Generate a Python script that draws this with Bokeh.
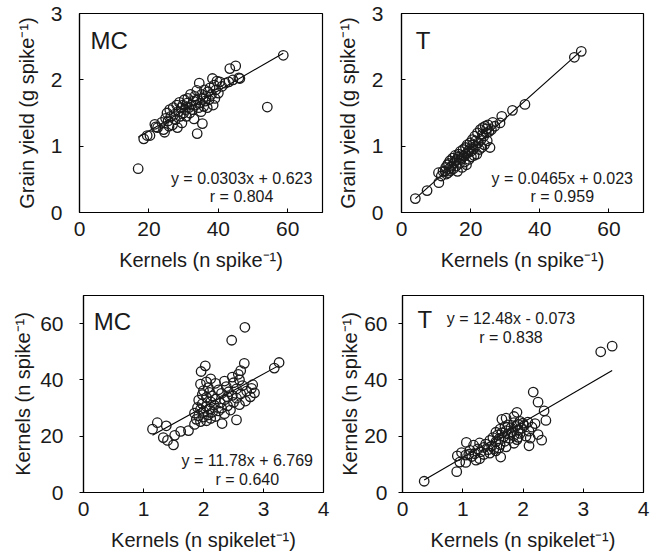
from bokeh.plotting import figure
from bokeh.layouts import column, row
from bokeh.models import Range1d, FixedTicker, Label
from bokeh.embed import file_html
from bokeh.resources import INLINE

# ---- MC treatment ----
mc_kernels_spike = [16.9, 18.5, 19.5, 20.3, 21.7, 22.0, 22.5, 23.7, 24.2, 24.5, 24.8, 25.2, 25.5, 25.8,
                    26.0, 26.3, 26.8, 27.0, 27.3, 27.6, 28.0, 28.2, 28.5, 28.8, 29.0, 29.3, 29.5, 29.8,
                    30.0, 30.2, 30.5, 30.8, 31.0, 31.2, 31.5, 31.8, 32.0, 32.2, 32.5, 32.8, 33.0, 33.2,
                    33.5, 33.8, 33.9, 34.0, 34.3, 34.5, 34.8, 35.0, 35.2, 35.4, 35.6, 35.8, 36.0, 36.2,
                    36.5, 36.8, 37.0, 37.3, 37.6, 38.0, 38.3, 38.5, 38.8, 39.0, 39.3, 39.6, 40.0, 40.4,
                    41.0, 42.0, 43.0, 43.3, 44.2, 45.0, 45.9, 46.2, 54.1, 58.7]
mc_grain_yield = [0.66, 1.11, 1.16, 1.16, 1.33, 1.29, 1.28, 1.36, 1.25, 1.21, 1.42, 1.50, 1.38, 1.30,
                  1.55, 1.45, 1.32, 1.58, 1.48, 1.40, 1.62, 1.28, 1.52, 1.66, 1.45, 1.58, 1.35, 1.62,
                  1.50, 1.70, 1.55, 1.45, 1.65, 1.72, 1.58, 1.50, 1.78, 1.62, 1.55, 1.68, 1.41, 1.75,
                  1.62, 1.84, 1.19, 1.70, 1.58, 1.95, 1.65, 1.52, 1.78, 1.34, 1.72, 1.60, 1.85, 1.68,
                  1.75, 1.58, 1.82, 1.70, 1.88, 1.78, 2.02, 1.62, 1.92, 1.72, 1.85, 1.98, 1.80, 1.97,
                  1.90, 1.95, 1.97, 2.17, 2.00, 2.21, 2.03, 2.02, 1.59, 2.37]
mc_kernels_spikelet = [1.50, 1.40, 1.33, 1.52, 1.62, 1.75, 1.15, 1.38, 1.85, 2.31, 1.23, 1.95, 2.05, 2.55,
                       1.88, 2.12, 2.00, 2.20, 1.92, 2.08, 2.35, 1.85, 2.15, 2.00, 2.25, 2.45, 1.95, 2.10,
                       2.30, 1.90, 2.05, 2.40, 2.18, 2.60, 1.98, 2.28, 2.50, 2.12, 2.70, 1.92, 2.35, 2.20,
                       2.55, 2.05, 2.40, 2.78, 2.15, 2.48, 1.98, 2.62, 2.30, 2.85, 2.10, 2.42, 2.72, 2.00,
                       2.25, 2.55, 2.80, 2.08, 2.38, 2.65, 2.82, 1.95, 2.20, 2.50, 2.05, 2.35, 2.60, 2.12,
                       2.48, 2.58, 1.96, 2.62, 3.18, 2.03, 2.68, 3.26, 2.47, 2.69]

# ---- T treatment ----
t_kernels_spike = [4.0, 7.4, 10.7, 10.8, 11.5, 12.0, 12.6, 12.8, 13.0, 13.3, 13.5, 13.6, 13.8, 14.0,
                   14.2, 14.5, 14.8, 15.0, 15.2, 15.5, 15.6, 15.8, 16.0, 16.2, 16.5, 16.6, 16.8, 17.0,
                   17.2, 17.5, 17.6, 17.8, 18.0, 18.2, 18.5, 18.6, 18.8, 19.0, 19.2, 19.3, 19.5, 19.6,
                   19.8, 20.0, 20.2, 20.5, 20.6, 20.8, 21.0, 21.2, 21.4, 21.5, 21.8, 22.0, 22.2, 22.5,
                   22.8, 23.0, 23.2, 23.4, 23.5, 23.8, 24.0, 24.2, 24.5, 24.6, 24.8, 25.0, 25.3, 25.6,
                   26.0, 26.4, 27.0, 28.5, 29.0, 32.1, 35.7, 50.0, 52.0]
t_grain_yield = [0.21, 0.33, 0.60, 0.45, 0.55, 0.62, 0.62, 0.68, 0.58, 0.72, 0.60, 0.74, 0.66, 0.78,
                 0.63, 0.70, 0.82, 0.66, 0.75, 0.86, 0.78, 0.70, 0.80, 0.62, 0.88, 0.84, 0.74, 0.92,
                 0.80, 0.68, 0.86, 0.95, 0.85, 0.76, 0.98, 0.88, 0.72, 1.02, 0.90, 0.92, 0.80, 0.95,
                 1.05, 0.92, 0.84, 1.10, 1.02, 0.96, 0.86, 1.15, 1.08, 1.00, 0.88, 1.20, 1.05, 0.95,
                 1.25, 1.10, 0.98, 1.18, 1.28, 1.15, 1.02, 1.30, 1.20, 1.26, 1.08, 1.32, 1.22, 0.98,
                 1.25, 1.36, 1.30, 1.35, 1.45, 1.54, 1.63, 2.34, 2.43]
t_kernels_spikelet = [0.36, 0.90, 1.05, 0.95, 1.22, 1.28, 1.63, 1.15, 0.91, 1.05, 1.35, 1.10, 1.20, 1.45,
                      0.98, 1.30, 1.55, 1.12, 1.42, 1.25, 1.52, 1.60, 1.35, 1.72, 1.48, 2.10, 1.18, 1.62,
                      1.38, 1.85, 1.28, 1.06, 1.55, 1.70, 1.45, 2.31, 1.90, 1.60, 1.78, 2.12, 1.50, 1.92,
                      1.68, 2.05, 1.85, 1.58, 2.25, 1.75, 1.95, 1.65, 1.55, 1.82, 2.10, 1.72, 1.92, 1.62,
                      1.98, 1.80, 2.15, 1.70, 1.88, 2.02, 1.75, 1.92, 2.20, 2.00, 1.85, 2.08, 1.95, 2.38,
                      1.65, 1.72, 1.85, 1.90, 2.35, 2.25, 2.17, 3.29, 3.48]

# regression fits (slope, intercept) and their printed text
fit_mc_gy = (0.0303, 0.623)
fit_t_gy = (0.0465, 0.023)
fit_mc_k = (11.78, 6.769)
fit_t_k = (12.48, -0.073)
eq_texts = ["y = 0.0303x + 0.623", "y = 0.0465x + 0.023", "y = 11.78x + 6.769", "y = 12.48x - 0.073"]
r_texts = ["r = 0.804", "r = 0.959", "r = 0.640", "r = 0.838"]
tags = ["MC", "T", "MC", "T"]

xlab_spike = "Kernels (n spike\u207b\u00b9)"
xlab_spikelet = "Kernels (n spikelet\u207b\u00b9)"
ylab_gy = "Grain yield (g spike\u207b\u00b9)"
ylab_k = "Kernels (n spike\u207b\u00b9)"

FONT = "Liberation Sans"
INK = "#1a1a1a"


def panel(x, y, fit, xr, yr, xt, yt, xlab, ylab, tag, tag_xy, eq, r, eq_xy, r_xy,
          w, h, borders, ytick_in, ylab_standoff=10, ytick_standoff=17):
    p = figure(width=w, height=h, x_range=Range1d(*xr), y_range=Range1d(*yr),
               output_backend="svg", toolbar_location=None,
               min_border_left=borders[0], min_border_right=borders[1],
               min_border_top=borders[2], min_border_bottom=borders[3])
    p.grid.visible = False
    p.outline_line_color = "black"
    p.outline_line_width = 1.2
    p.background_fill_color = "white"
    p.border_fill_color = "white"

    p.xaxis.ticker = FixedTicker(ticks=xt)
    p.yaxis.ticker = FixedTicker(ticks=yt)
    for ax in (p.xaxis[0], p.yaxis[0]):
        ax.axis_line_color = "black"
        ax.axis_line_width = 1.2
        ax.major_tick_line_color = "black"
        ax.minor_tick_line_color = None
        ax.major_label_text_font = FONT
        ax.major_label_text_font_size = "21px"
        ax.major_label_text_color = INK
        ax.axis_label_text_font = FONT
        ax.axis_label_text_font_size = "20px"
        ax.axis_label_text_font_style = "normal"
        ax.axis_label_text_color = INK
    p.xaxis.major_tick_in = 4
    p.xaxis.major_tick_out = 0
    p.xaxis.major_label_standoff = 9
    p.xaxis.axis_label_standoff = 10
    if ytick_in:
        p.yaxis.major_tick_in = 4
        p.yaxis.major_tick_out = 0
    else:
        p.yaxis.major_tick_in = 0
        p.yaxis.major_tick_out = 4
    p.yaxis.major_label_standoff = ytick_standoff
    p.yaxis.axis_label_standoff = ylab_standoff
    p.xaxis.axis_label = xlab
    p.yaxis.axis_label = ylab

    x0, x1 = min(x), max(x)
    p.line([x0, x1], [fit[0] * x0 + fit[1], fit[0] * x1 + fit[1]], line_color="black", line_width=1.1)
    p.scatter(x, y, marker="circle", size=9.5, fill_alpha=0, line_color=INK, line_width=1.3)

    p.add_layout(Label(x=tag_xy[0], y=tag_xy[1], text=tag, text_align="left", text_baseline="middle",
                       text_font=FONT, text_font_size="24px", text_color=INK))
    p.add_layout(Label(x=eq_xy[0], y=eq_xy[1], text=eq, text_align="center", text_baseline="middle",
                       text_font=FONT, text_font_size="16px", text_color=INK))
    p.add_layout(Label(x=r_xy[0], y=r_xy[1], text=r, text_align="center", text_baseline="middle",
                       text_font=FONT, text_font_size="16px", text_color=INK))
    return p


p1 = panel(mc_kernels_spike, mc_grain_yield, fit_mc_gy, (0, 70), (0, 3), [0, 20, 40, 60], [0, 1, 2, 3],
           xlab_spike, ylab_gy, tags[0], (3.2, 2.6), eq_texts[0], r_texts[0], (46.7, 0.51), (46.7, 0.24),
           330, 279, (79, 8, 13, 67), True)
p2 = panel(t_kernels_spike, t_grain_yield, fit_t_gy, (0, 70), (0, 3), [0, 20, 40, 60], [0, 1, 2, 3],
           xlab_spike, ylab_gy, tags[1], (4.1, 2.6), eq_texts[1], r_texts[1], (46.5, 0.51), (46.5, 0.24),
           322, 279, (71, 9, 13, 67), True, ytick_standoff=18)
p3 = panel(mc_kernels_spikelet, mc_kernels_spike, fit_mc_k, (0, 4), (0, 70), [0, 1, 2, 3, 4], [0, 20, 40, 60],
           xlab_spikelet, ylab_k, tags[2], (0.17, 60.7), eq_texts[2], r_texts[2], (2.73, 11.4), (2.73, 4.6),
           330, 279, (83, 7, 16, 66), False, ylab_standoff=3, ytick_standoff=16)
p4 = panel(t_kernels_spikelet, t_kernels_spike, fit_t_k, (0, 4), (0, 70), [0, 1, 2, 3, 4], [0, 20, 40, 60],
           xlab_spikelet, ylab_k, tags[3], (0.25, 61.6), eq_texts[3], r_texts[3], (1.8, 61.7), (1.8, 54.9),
           322, 279, (72, 9, 16, 66), False, ylab_standoff=0, ytick_standoff=11)

layout = column(row(p1, p2), row(p3, p4))

open("out.html", "w").write(file_html(layout, INLINE))
